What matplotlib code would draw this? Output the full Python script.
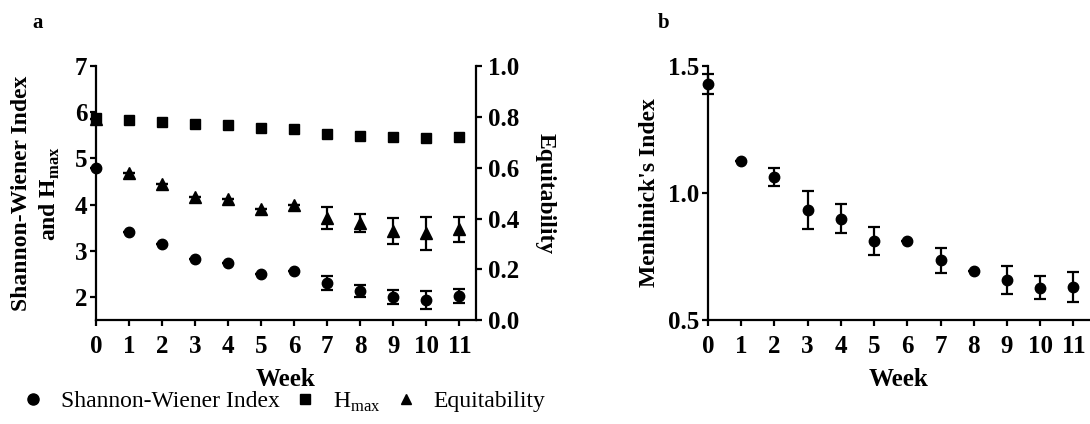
import matplotlib
matplotlib.use("Agg")
import matplotlib.pyplot as plt
from matplotlib.lines import Line2D

plt.rcParams["font.family"] = "Liberation Serif"
plt.rcParams["mathtext.fontset"] = "custom"
plt.rcParams["mathtext.rm"] = "Liberation Serif"
plt.rcParams["mathtext.bf"] = "Liberation Serif:bold"

weeks = list(range(12))

# panel a: diversity indices
shannon = [4.79, 3.40, 3.14, 2.82, 2.74, 2.49, 2.57, 2.30, 2.13, 2.00, 1.93, 2.02]
shannon_err = [0, 0, 0, 0, 0, 0, 0, 0.15, 0.13, 0.15, 0.20, 0.16]
hmax = [5.87, 5.83, 5.79, 5.75, 5.72, 5.65, 5.63, 5.52, 5.49, 5.46, 5.44, 5.46]
equit = [0.79, 0.578, 0.537, 0.486, 0.476, 0.437, 0.454, 0.402, 0.383, 0.351, 0.342, 0.357]
equit_err = [0, 0, 0, 0, 0, 0, 0, 0.045, 0.035, 0.05, 0.065, 0.05]

# panel b: Menhinick's index
menhinick = [1.428, 1.127, 1.062, 0.934, 0.899, 0.811, 0.81, 0.735, 0.693, 0.657, 0.628, 0.63]
menhinick_err = [0.04, 0, 0.035, 0.074, 0.058, 0.054, 0, 0.05, 0, 0.055, 0.044, 0.058]

LW = 1.6
TICK_FS = 18
LABEL_FS = 17
bold = dict(fontweight="bold")

fig = plt.figure(figsize=(10.9, 4.24), dpi=100)


def style_axis(ax, sides):
    for s in ["top", "right", "left", "bottom"]:
        ax.spines[s].set_visible(s in sides)
        ax.spines[s].set_linewidth(LW)
    ax.tick_params(width=LW, length=4, labelsize=TICK_FS)
    ax.tick_params(axis="x", pad=7)
    ax.tick_params(axis="y", pad=2)
    for lab in ax.get_xticklabels() + ax.get_yticklabels():
        lab.set_fontweight("bold")


def errpoints(ax, x, y, err, marker, ms, z=3):
    ax.errorbar(x, y, yerr=err, fmt=marker, color="black", ms=ms,
                ecolor="black", elinewidth=LW, capsize=4.5, capthick=LW,
                zorder=z, clip_on=False)


# ---- panel a ----
ax1 = fig.add_axes([0.088, 0.245, 0.3486, 0.599])
ax2 = ax1.twinx()
ax1.set_xlim(0, 11.5)
ax1.set_ylim(1.5, 7)
ax2.set_ylim(0, 1.0)
ax1.set_xticks(weeks)
ax1.set_yticks([2, 3, 4, 5, 6, 7])
ax2.set_yticks([0.0, 0.2, 0.4, 0.6, 0.8, 1.0])
ax2.set_yticklabels([f"{v:.1f}" for v in ax2.get_yticks()])
style_axis(ax1, ["left", "bottom"])
style_axis(ax2, ["right"])
ax2.tick_params(axis="y", pad=5)

errpoints(ax2, weeks, equit, equit_err, "^", 8.5)
errpoints(ax1, weeks, hmax, None, "s", 7.5)
errpoints(ax1, weeks, shannon, shannon_err, "o", 7.5)

ax1.set_xlabel("Week", fontsize=TICK_FS, labelpad=7, **bold)
ax1.set_ylabel("Shannon-Wiener Index\nand H$_{\\mathregular{max}}$", fontsize=LABEL_FS,
               linespacing=1.35, labelpad=9, **bold)
ax2.set_ylabel("Equitability", fontsize=LABEL_FS, rotation=270, labelpad=26, **bold)
fig.text(0.03, 0.945, "a", fontsize=15, va="center", **bold)

handles = [
    Line2D([], [], ls="none", marker="o", color="black", ms=8),
    Line2D([], [], ls="none", marker="s", color="black", ms=6.5),
    Line2D([], [], ls="none", marker="^", color="black", ms=7),
]
fig.legend(handles, ["Shannon-Wiener Index", "H$_{\\mathregular{max}}$", "Equitability"],
           loc="center left", bbox_to_anchor=(0.0193, 0.052), ncol=3, frameon=False,
           fontsize=LABEL_FS, handletextpad=0.7, columnspacing=0.55, handlelength=1.0,
           borderpad=0, borderaxespad=0)

# ---- panel b ----
ax3 = fig.add_axes([0.6495, 0.245, 0.3505, 0.6])
ax3.set_xlim(0, 11.5)
ax3.set_ylim(0.5, 1.5)
ax3.set_xticks(weeks)
ax3.set_yticks([0.5, 1.0, 1.5])
ax3.set_yticklabels(["0.5", "1.0", "1.5"])
style_axis(ax3, ["left", "bottom"])
errpoints(ax3, weeks, menhinick, menhinick_err, "o", 7.5)
ax3.set_xlabel("Week", fontsize=TICK_FS, labelpad=7, **bold)
ax3.set_ylabel("Menhinick's Index", fontsize=LABEL_FS, labelpad=6, **bold)
fig.text(0.603, 0.945, "b", fontsize=15, va="center", **bold)

fig.savefig("out.png", dpi=100)
